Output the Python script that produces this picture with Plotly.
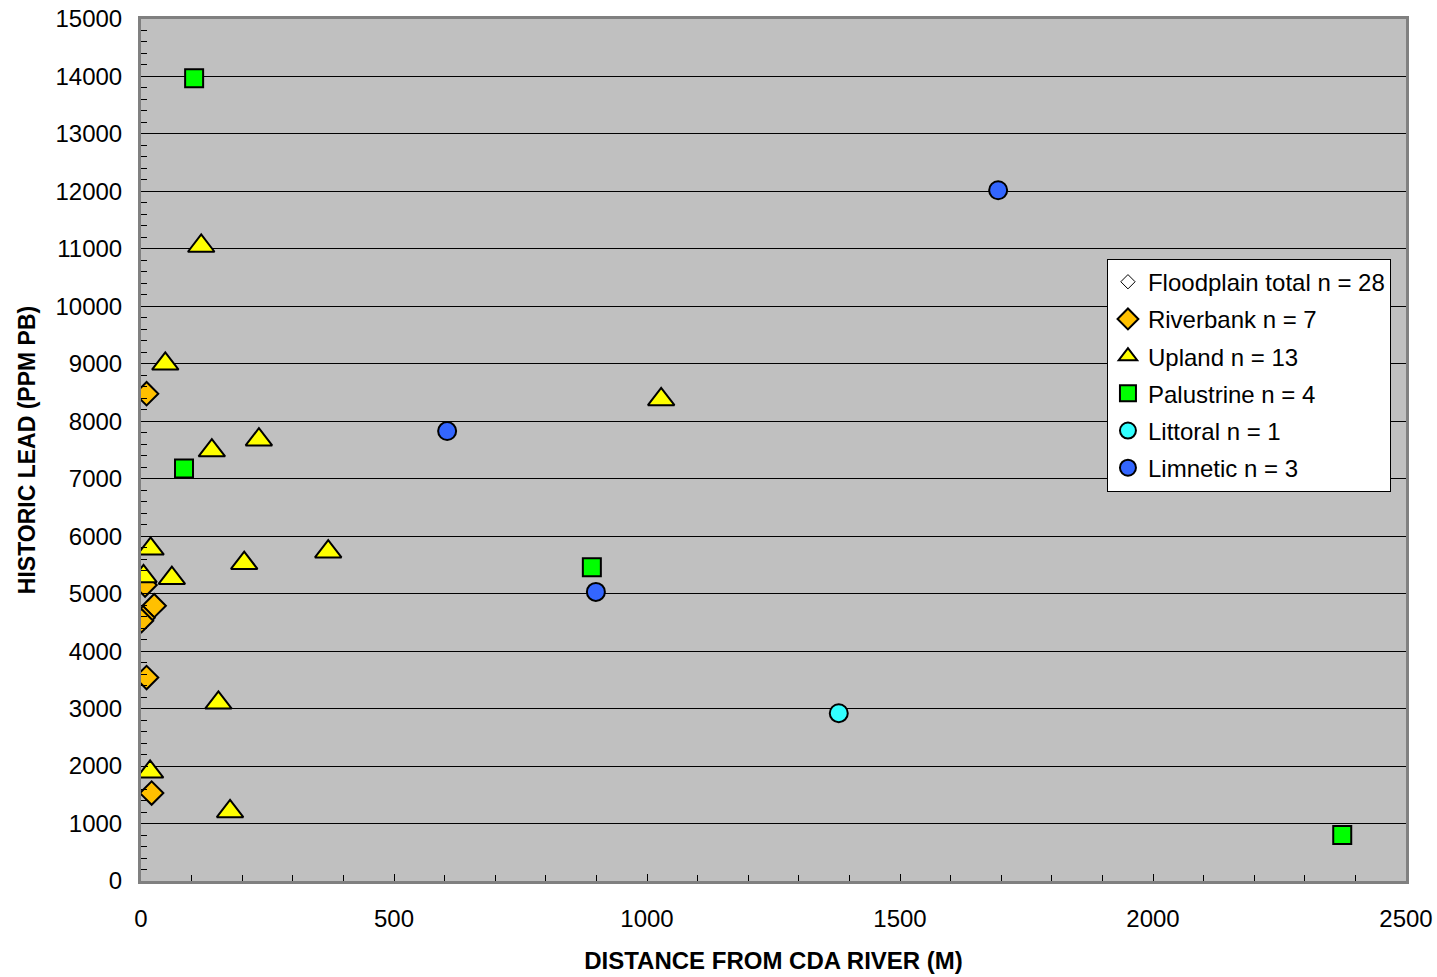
import plotly.graph_objects as go

# Data (distance m, historic lead ppm Pb)
riverbank_x = [11, 8, 26, 4, 1, 11, 21]
riverbank_y = [8480, 5150, 4790, 4580, 4530, 3540, 1530]

upland_x = [119, 48, 1028, 233, 140, 19, 370, 204, 5, 61, 153, 18, 176]
upland_y = [11050, 9000, 8380, 7680, 7490, 5780, 5730, 5530, 5300, 5270, 3100, 1900, 1210]

palustrine_x = [105, 85, 891, 2374]
palustrine_y = [13970, 7180, 5460, 800]

littoral_x = [1379]
littoral_y = [2920]

limnetic_x = [1694, 605, 899]
limnetic_y = [12020, 7830, 5030]

FONT = "Liberation Sans, Arial, sans-serif"

fig = go.Figure()

fig.add_trace(go.Scatter(x=[None], y=[None], mode="markers", name="Floodplain total n = 28",
                         legendgroup="a",
                         marker=dict(symbol="diamond", size=11, color="white",
                                     line=dict(color="black", width=1))))
fig.add_trace(go.Scatter(x=riverbank_x, y=riverbank_y, mode="markers", name="Riverbank n = 7",
                         legendgroup="b",
                         marker=dict(symbol="diamond", size=18, color="#FFC000",
                                     line=dict(color="black", width=2))))
fig.add_trace(go.Scatter(x=upland_x, y=upland_y, mode="markers", name="Upland n = 13",
                         legendgroup="c",
                         marker=dict(symbol="triangle-up", size=23, color="#FFFF00",
                                     line=dict(color="black", width=2))))
fig.add_trace(go.Scatter(x=palustrine_x, y=palustrine_y, mode="markers", name="Palustrine n = 4",
                         legendgroup="d",
                         marker=dict(symbol="square", size=18, color="#00FF00",
                                     line=dict(color="black", width=2))))
fig.add_trace(go.Scatter(x=littoral_x, y=littoral_y, mode="markers", name="Littoral n = 1",
                         legendgroup="e",
                         marker=dict(symbol="circle", size=18, color="#33FFFF",
                                     line=dict(color="black", width=2))))
fig.add_trace(go.Scatter(x=limnetic_x, y=limnetic_y, mode="markers", name="Limnetic n = 3",
                         legendgroup="f",
                         marker=dict(symbol="circle", size=18, color="#3366FF",
                                     line=dict(color="black", width=2))))

fig.update_layout(
    width=1437, height=977,
    margin=dict(l=141, r=31, t=19, b=96, autoexpand=False),
    paper_bgcolor="white",
    plot_bgcolor="#C0C0C0",
    font=dict(family=FONT, size=24, color="black"),
    showlegend=True,
    legend=dict(x=0.7636, y=0.722, xanchor="left", yanchor="top",
                bgcolor="white", bordercolor="black", borderwidth=1,
                font=dict(family=FONT, size=24), itemwidth=30,
                tracegroupgap=3),
)

fig.update_xaxes(
    range=[0, 2500], dtick=500, tick0=0, tickformat="d",
    showgrid=False, zeroline=False, automargin=False,
    showline=True, linecolor="#808080", linewidth=3, mirror=True,
    ticks="inside", ticklen=7, tickcolor="black",
    minor=dict(ticks="inside", dtick=100, ticklen=6, tickcolor="black"),
    tickfont=dict(family=FONT, size=24), ticklabelstandoff=14,
    title=dict(text="<b>DISTANCE FROM CDA RIVER (M)</b>", font=dict(family=FONT, size=24), standoff=22),
)
fig.update_yaxes(
    range=[0, 15000], dtick=1000, tick0=0, tickformat="d",
    showgrid=True, gridcolor="black", gridwidth=1, zeroline=False, automargin=False,
    showline=True, linecolor="#808080", linewidth=3, mirror=True,
    ticks="inside", ticklen=7, tickcolor="black",
    minor=dict(ticks="inside", dtick=200, ticklen=6, tickcolor="black", showgrid=False),
    tickfont=dict(family=FONT, size=24), ticklabelstandoff=11,
    title=dict(text="<b>HISTORIC LEAD (PPM PB)</b>", font=dict(family=FONT, size=23), standoff=14),
)

fig.write_html("out.html",
               config={"displayModeBar": False},
               post_script="document.body.style.margin='0px';document.body.style.overflow='hidden';")
